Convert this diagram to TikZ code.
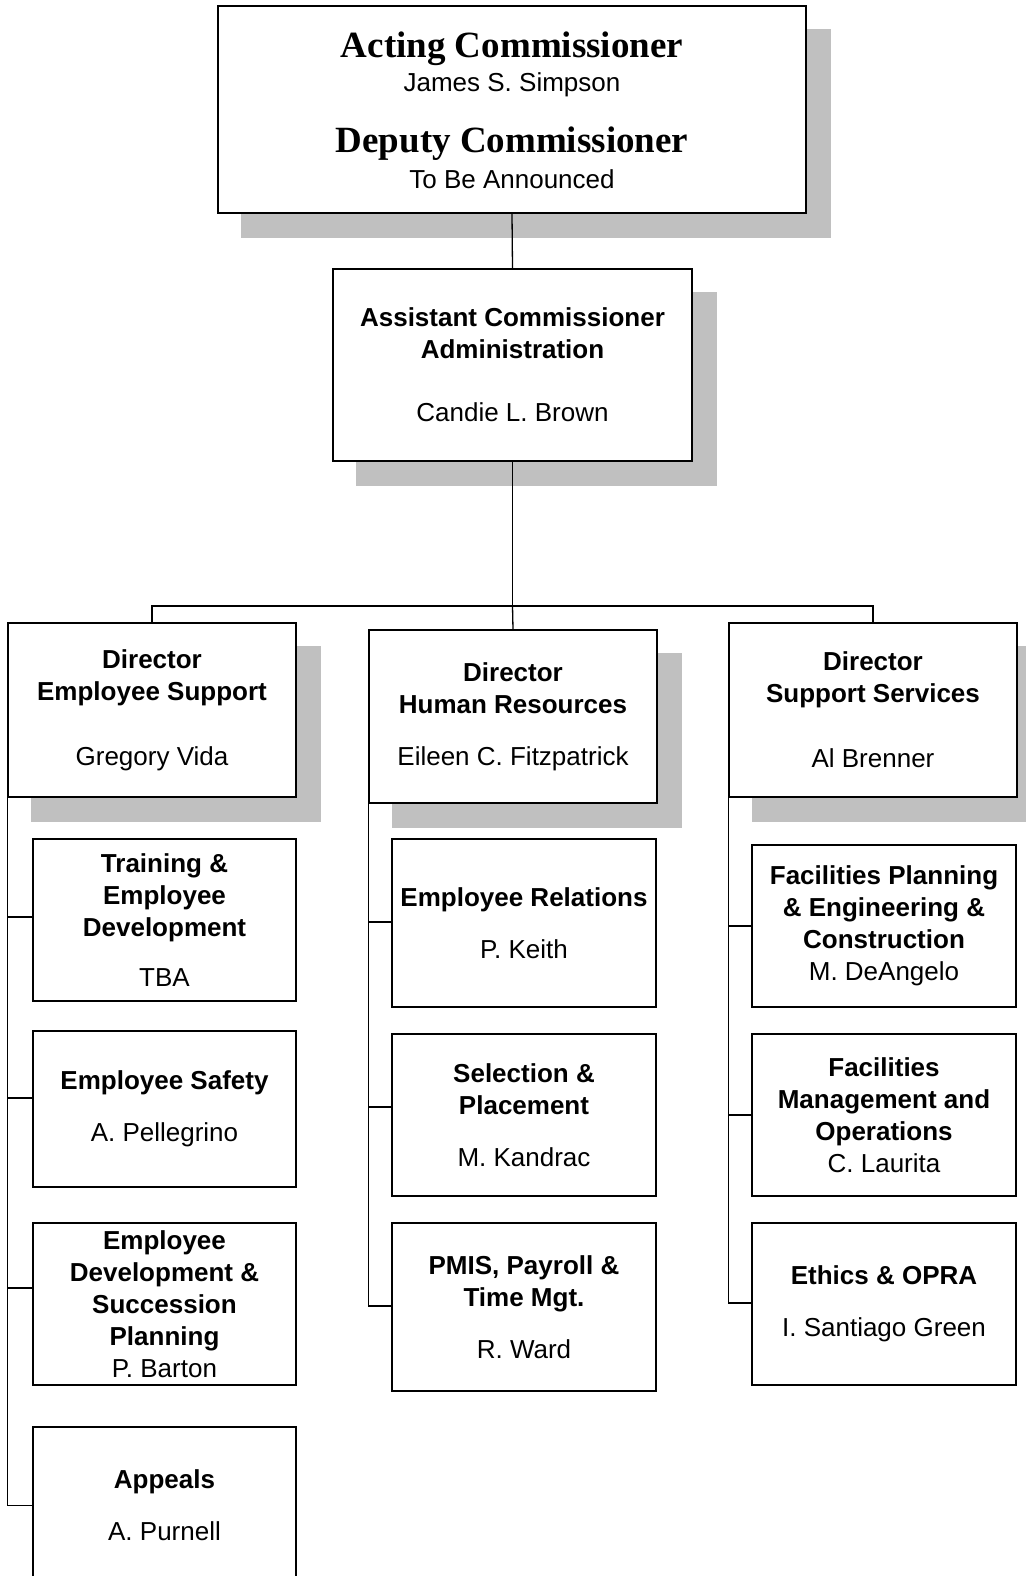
\documentclass[tikz,border=0pt]{standalone}
\usepackage{fontspec}
\setmainfont{Liberation Sans}
\newfontfamily\serifTNR{Liberation Serif}
\usetikzlibrary{backgrounds}
\definecolor{shadowgray}{HTML}{C0C0C0}
\begin{document}
\begin{tikzpicture}[x=1pt,y=-1pt,
  box/.style={draw, fill=white, line width=1.5pt, inner sep=0pt, align=center,
    font=\fontsize{26}{32}\selectfont},
  subL/.style={box, minimum width=263pt},
  subM/.style={box, minimum width=264pt},
  subR/.style={box, minimum width=264pt},
  dirbox/.style={box, minimum width=288pt},
  conn/.style={line width=1.3pt},
  shade/.style={fill=shadowgray}
]
\clip (0,0) rectangle (1025,1576);

% top levels
\node[box, minimum width=588pt, minimum height=207pt] (top) at (512,109.5) {};
\node[anchor=base, font=\serifTNR\bfseries\fontsize{37}{40}\selectfont] (t1) at (512,58) {Acting Commissioner};
\node[anchor=base, font=\fontsize{26}{30}\selectfont] (t2) at (512,92) {James S. Simpson};
\node[anchor=base, font=\serifTNR\bfseries\fontsize{37}{40}\selectfont] (t3) at (512,153) {Deputy Commissioner};
\node[anchor=base, font=\fontsize{26}{30}\selectfont] (t4) at (512,188) {To Be Announced};

\node[box, minimum width=359pt, minimum height=192pt] (asst) at (512.5,365)
  {\textbf{Assistant Commissioner}\\\textbf{Administration}\\[31pt]Candie L. Brown};

% directors
\node[dirbox, minimum height=174pt] (des) at (152,710)
  {\textbf{Director}\\\textbf{Employee Support}\\[33pt]Gregory Vida};
\node[dirbox, minimum height=173pt] (dhr) at (513,716.5)
  {\textbf{Director}\\\textbf{Human Resources}\\[20pt]Eileen C. Fitzpatrick};
\node[dirbox, minimum height=174pt] (dss) at (873,710)
  {\textbf{Director}\\\textbf{Support Services}\\[33pt]Al Brenner};

% left column
\node[subL, minimum height=162pt] (tr) at (164.5,920)
  {\textbf{Training \&}\\\textbf{Employee}\\\textbf{Development}\\[18pt]TBA};
\node[subL, minimum height=156pt] (sf) at (164.5,1109)
  {\textbf{Employee Safety}\\[20pt]A. Pellegrino};
\node[subL, minimum height=162pt] (ed) at (164.5,1304)
  {\textbf{Employee}\\\textbf{Development \&}\\\textbf{Succession}\\\textbf{Planning}\\P. Barton};
\node[subL, minimum height=157pt] (ap) at (164.5,1505.5)
  {\textbf{Appeals}\\[20pt]A. Purnell};

% middle column
\node[subM, minimum height=168pt] (er) at (524,923)
  {\textbf{Employee Relations}\\[20pt]P. Keith};
\node[subM, minimum height=162pt] (sp) at (524,1115)
  {\textbf{Selection \&}\\\textbf{Placement}\\[20pt]M. Kandrac};
\node[subM, minimum height=168pt] (pm) at (524,1307)
  {\textbf{PMIS, Payroll \&}\\\textbf{Time Mgt.}\\[20pt]R. Ward};

% right column
\node[subR, minimum height=162pt] (fp) at (884,926)
  {\textbf{Facilities Planning}\\\textbf{\& Engineering \&}\\\textbf{Construction}\\M. DeAngelo};
\node[subR, minimum height=162pt] (fm) at (884,1115)
  {\textbf{Facilities}\\\textbf{Management and}\\\textbf{Operations}\\C. Laurita};
\node[subR, minimum height=162pt] (et) at (884,1304)
  {\textbf{Ethics \& OPRA}\\[20pt]I. Santiago Green};

% shadows
\begin{scope}[on background layer]
  \foreach \n in {top,asst,des,dhr,dss}
    \fill[shade] ([shift={(24,24)}]\n.north west) rectangle ([shift={(24,24)}]\n.south east);
\end{scope}

% connectors
\coordinate (bar) at (512.5,606);
\draw[conn] (top.south) -- (asst.north);
\draw[conn] (asst.south) -- (bar);
\draw[conn] (des.north) |- (bar) -| (dss.north);
\draw[conn] (bar) -- (dhr.north);

\draw[conn] (des.west) |- ([yshift=3pt]tr.west);
\draw[conn] (des.west) |- ([yshift=11pt]sf.west);
\draw[conn] (des.west) |- ([yshift=16pt]ed.west);
\draw[conn] (des.west) |- (ap.west);

\draw[conn] (dhr.west) |- ([yshift=1pt]er.west);
\draw[conn] (dhr.west) |- ([yshift=8pt]sp.west);
\draw[conn] (dhr.west) |- ([yshift=1pt]pm.west);

\draw[conn] (dss.west) |- (fp.west);
\draw[conn] (dss.west) |- (fm.west);
\draw[conn] (dss.west) |- ([yshift=1pt]et.west);
\end{tikzpicture}
\end{document}
